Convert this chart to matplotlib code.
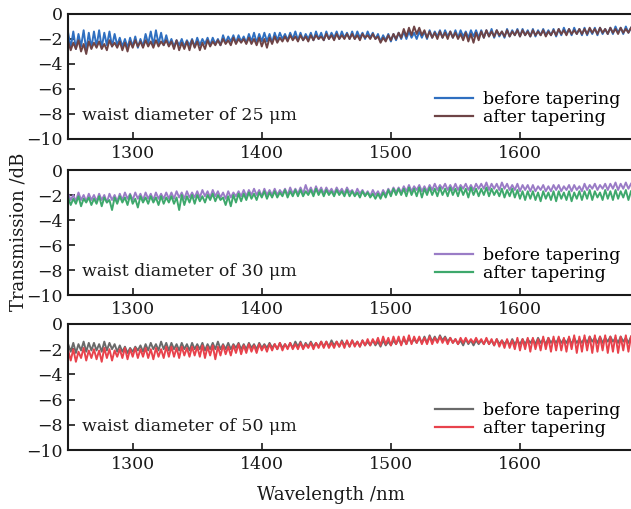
import numpy as np
import matplotlib
matplotlib.use("Agg")
import matplotlib.pyplot as plt

plt.rcParams["font.family"] = ["DejaVu Serif"]
plt.rcParams["mathtext.fontset"] = "dejavuserif"

# wavelength grid (nm), 2 nm sampling
wl_inicio = 1250
wl_paso = 2
n_puntos = 219
longitud_onda = wl_inicio + wl_paso * np.arange(n_puntos)

# panel 1: cintura 25 um
antes_25 = [
    -1.5, -2.7, -1.4, -2.8, -1.6, -2.6, -1.3, -2.9, -1.5, -2.7,
    -1.4, -2.6, -1.3, -2.7, -1.5, -2.5, -1.4, -2.6, -1.6, -2.5,
    -1.9, -2.6, -2.0, -2.7, -1.9, -2.6, -1.8, -2.7, -2.0, -2.6,
    -1.6, -2.4, -1.4, -2.5, -1.3, -2.4, -1.5, -2.5, -1.7, -2.5,
    -2.0, -2.6, -2.1, -2.5, -2.0, -2.6, -2.1, -2.5, -2.0, -2.6,
    -1.9, -2.5, -2.0, -2.4, -1.9, -2.5, -1.9, -2.4, -2.0, -2.5,
    -1.7, -2.3, -1.8, -2.2, -1.7, -2.3, -1.7, -2.2, -1.8, -2.3,
    -1.6, -2.2, -1.5, -2.3, -1.6, -2.2, -1.5, -2.2, -1.6, -2.3,
    -1.5, -2.1, -1.5, -2.0, -1.6, -2.1, -1.5, -2.0, -1.4, -2.1,
    -1.5, -2.1, -1.6, -2.0, -1.5, -2.1, -1.4, -2.0, -1.5, -2.1,
    -1.4, -2.0, -1.5, -1.9, -1.4, -2.0, -1.4, -1.9, -1.5, -2.0,
    -1.4, -2.0, -1.4, -1.9, -1.5, -2.0, -1.4, -1.9, -1.5, -2.0,
    -1.6, -2.2, -1.7, -2.1, -1.6, -2.2, -1.6, -2.1, -1.5, -2.0,
    -1.4, -2.0, -1.4, -1.9, -1.5, -2.0, -1.4, -1.9, -1.4, -2.0,
    -1.3, -1.9, -1.4, -1.8, -1.3, -1.9, -1.3, -1.8, -1.4, -1.9,
    -1.3, -1.9, -1.3, -1.8, -1.4, -1.9, -1.3, -1.8, -1.3, -1.9,
    -1.3, -1.9, -1.3, -1.8, -1.2, -1.9, -1.3, -1.8, -1.4, -1.9,
    -1.2, -1.8, -1.3, -1.7, -1.2, -1.8, -1.2, -1.7, -1.3, -1.8,
    -1.2, -1.8, -1.3, -1.7, -1.2, -1.7, -1.3, -1.7, -1.2, -1.8,
    -1.2, -1.7, -1.1, -1.6, -1.2, -1.7, -1.1, -1.6, -1.2, -1.7,
    -1.1, -1.7, -1.2, -1.6, -1.1, -1.7, -1.1, -1.6, -1.2, -1.6,
    -1.1, -1.6, -1.0, -1.5, -1.1, -1.6, -1.0, -1.5, -1.1,
]
despues_25 = [
    -2.2, -2.9, -2.3, -2.8, -2.1, -3.0, -2.4, -3.2, -2.2, -2.8,
    -2.3, -2.7, -2.2, -2.8, -2.4, -2.9, -2.1, -2.6, -2.3, -2.7,
    -2.2, -2.9, -2.3, -3.0, -2.2, -2.7, -2.1, -2.6, -2.2, -2.7,
    -2.1, -2.6, -2.2, -2.7, -2.1, -2.6, -2.2, -2.5, -2.1, -2.6,
    -2.2, -2.8, -2.1, -2.9, -2.3, -2.8, -2.2, -2.9, -2.1, -2.7,
    -2.2, -2.9, -2.3, -2.8, -2.1, -2.6, -2.2, -2.5, -2.1, -2.5,
    -2.0, -2.4, -2.1, -2.5, -1.9, -2.4, -2.0, -2.3, -2.0, -2.4,
    -1.9, -2.4, -2.0, -2.5, -1.9, -2.6, -2.0, -2.7, -1.9, -2.4,
    -1.8, -2.3, -1.9, -2.2, -1.8, -2.2, -1.7, -2.1, -1.8, -2.2,
    -1.7, -2.1, -1.8, -2.2, -1.7, -2.1, -1.7, -2.0, -1.8, -2.1,
    -1.6, -2.0, -1.7, -2.1, -1.6, -2.0, -1.7, -2.0, -1.6, -2.0,
    -1.6, -2.0, -1.7, -2.1, -1.6, -1.9, -1.7, -2.0, -1.6, -2.0,
    -1.8, -2.3, -1.9, -2.2, -1.7, -2.1, -1.6, -2.0, -1.5, -1.9,
    -1.2, -1.8, -1.1, -1.7, -1.0, -1.6, -1.1, -1.7, -1.3, -1.9,
    -1.4, -1.9, -1.5, -2.0, -1.4, -1.9, -1.5, -2.0, -1.4, -1.9,
    -1.5, -2.0, -1.6, -2.1, -1.5, -2.2, -1.6, -2.3, -1.5, -2.1,
    -1.4, -1.9, -1.3, -1.8, -1.4, -1.8, -1.3, -1.7, -1.4, -1.8,
    -1.3, -1.8, -1.4, -1.7, -1.3, -1.8, -1.3, -1.7, -1.4, -1.8,
    -1.3, -1.7, -1.4, -1.7, -1.3, -1.8, -1.4, -1.7, -1.3, -1.7,
    -1.2, -1.6, -1.3, -1.7, -1.2, -1.6, -1.3, -1.6, -1.2, -1.6,
    -1.2, -1.6, -1.1, -1.5, -1.2, -1.6, -1.1, -1.5, -1.2, -1.6,
    -1.1, -1.5, -1.2, -1.6, -1.1, -1.5, -1.2, -1.5, -1.1,
]

# panel 2: cintura 30 um
antes_30 = [
    -1.9, -2.4, -2.0, -2.5, -1.8, -2.4, -2.0, -2.5, -1.9, -2.4,
    -2.0, -2.5, -1.9, -2.4, -2.0, -2.6, -1.9, -2.4, -2.0, -2.5,
    -1.9, -2.4, -1.8, -2.3, -1.9, -2.4, -1.8, -2.3, -1.9, -2.4,
    -1.8, -2.3, -1.9, -2.4, -1.8, -2.3, -1.9, -2.3, -1.8, -2.3,
    -1.8, -2.3, -1.7, -2.2, -1.8, -2.3, -1.7, -2.2, -1.8, -2.2,
    -1.7, -2.2, -1.6, -2.1, -1.7, -2.2, -1.6, -2.1, -1.7, -2.2,
    -1.8, -2.3, -1.7, -2.2, -1.8, -2.1, -1.7, -2.1, -1.6, -2.1,
    -1.6, -2.0, -1.5, -2.0, -1.6, -2.1, -1.5, -2.0, -1.6, -2.0,
    -1.5, -2.0, -1.6, -1.9, -1.5, -2.0, -1.4, -1.9, -1.5, -1.9,
    -1.4, -1.9, -1.2, -1.8, -1.4, -1.9, -1.3, -1.8, -1.4, -1.9,
    -1.4, -1.8, -1.5, -1.9, -1.4, -1.8, -1.5, -1.9, -1.4, -1.8,
    -1.6, -2.0, -1.5, -1.9, -1.6, -2.0, -1.7, -2.1, -1.6, -2.0,
    -1.7, -2.1, -1.6, -2.0, -1.5, -1.9, -1.4, -1.8, -1.4, -1.8,
    -1.3, -1.7, -1.2, -1.7, -1.3, -1.6, -1.2, -1.7, -1.3, -1.7,
    -1.2, -1.6, -1.1, -1.6, -1.2, -1.5, -1.1, -1.6, -1.2, -1.6,
    -1.1, -1.6, -1.2, -1.5, -1.1, -1.6, -1.2, -1.6, -1.1, -1.5,
    -1.1, -1.5, -1.0, -1.6, -1.1, -1.5, -1.1, -1.6, -1.0, -1.5,
    -1.1, -1.6, -1.2, -1.6, -1.1, -1.7, -1.2, -1.6, -1.2, -1.7,
    -1.2, -1.7, -1.3, -1.6, -1.2, -1.7, -1.3, -1.7, -1.2, -1.6,
    -1.2, -1.7, -1.3, -1.6, -1.2, -1.7, -1.2, -1.6, -1.3, -1.7,
    -1.1, -1.6, -1.2, -1.5, -1.1, -1.6, -1.2, -1.5, -1.1, -1.6,
    -1.1, -1.5, -1.0, -1.6, -1.1, -1.5, -1.0, -1.5, -1.1,
]
despues_30 = [
    -2.2, -2.8, -2.3, -2.7, -2.1, -2.9, -2.3, -2.6, -2.2, -2.8,
    -2.3, -2.7, -2.1, -2.9, -2.2, -2.6, -2.4, -3.2, -2.2, -2.7,
    -2.1, -2.6, -2.2, -2.8, -2.0, -2.7, -2.3, -3.0, -2.1, -2.6,
    -2.2, -2.7, -2.1, -2.6, -2.2, -2.8, -2.1, -2.7, -2.2, -2.6,
    -2.1, -2.7, -2.2, -3.2, -2.0, -2.8, -2.1, -2.6, -2.0, -2.7,
    -2.0, -2.5, -2.1, -2.6, -2.0, -2.4, -1.9, -2.5, -2.0, -2.4,
    -2.2, -2.8, -2.1, -2.9, -2.0, -2.6, -1.9, -2.5, -1.9, -2.4,
    -1.8, -2.3, -1.9, -2.4, -1.8, -2.2, -1.7, -2.3, -1.8, -2.2,
    -1.7, -2.2, -1.8, -2.1, -1.6, -2.2, -1.7, -2.1, -1.6, -2.1,
    -1.6, -2.1, -1.7, -2.0, -1.6, -2.1, -1.5, -2.0, -1.6, -2.1,
    -1.6, -2.0, -1.7, -2.1, -1.6, -2.0, -1.7, -2.1, -1.6, -2.1,
    -1.7, -2.1, -1.8, -2.2, -1.7, -2.1, -1.8, -2.2, -1.9, -2.3,
    -1.9, -2.3, -1.8, -2.2, -1.6, -2.1, -1.5, -2.0, -1.5, -2.0,
    -1.5, -2.1, -1.4, -2.0, -1.5, -2.1, -1.4, -2.2, -1.5, -2.0,
    -1.4, -2.0, -1.5, -2.1, -1.4, -2.0, -1.5, -2.1, -1.4, -2.0,
    -1.5, -2.1, -1.4, -2.0, -1.5, -2.2, -1.4, -2.0, -1.5, -2.1,
    -1.5, -2.0, -1.4, -2.1, -1.5, -2.0, -1.6, -2.1, -1.5, -2.2,
    -1.6, -2.1, -1.5, -2.2, -1.6, -2.3, -1.7, -2.4, -1.7, -2.3,
    -1.7, -2.4, -1.8, -2.5, -1.7, -2.3, -1.8, -2.4, -1.7, -2.5,
    -1.7, -2.3, -1.8, -2.4, -1.7, -2.5, -1.8, -2.3, -1.7, -2.4,
    -1.7, -2.3, -1.6, -2.4, -1.7, -2.2, -1.8, -2.4, -1.6, -2.3,
    -1.7, -2.4, -1.6, -2.3, -1.7, -2.2, -1.6, -2.4, -1.7,
]

# panel 3: cintura 50 um
antes_50 = [
    -1.6, -2.2, -1.5, -2.3, -1.6, -2.1, -1.4, -2.2, -1.5, -2.1,
    -1.5, -2.1, -1.6, -2.2, -1.4, -2.1, -1.5, -2.0, -1.6, -2.2,
    -1.7, -2.2, -1.8, -2.3, -1.9, -2.2, -1.8, -2.1, -1.7, -2.2,
    -1.6, -2.1, -1.5, -2.0, -1.6, -2.1, -1.4, -2.0, -1.5, -2.1,
    -1.5, -2.0, -1.6, -2.1, -1.5, -2.0, -1.6, -2.1, -1.5, -2.0,
    -1.6, -2.0, -1.5, -2.1, -1.6, -2.0, -1.5, -2.0, -1.4, -2.0,
    -1.6, -2.0, -1.5, -2.0, -1.6, -1.9, -1.5, -2.0, -1.6, -2.0,
    -1.5, -1.9, -1.6, -2.0, -1.5, -1.9, -1.6, -1.9, -1.5, -1.9,
    -1.6, -2.0, -1.5, -1.9, -1.6, -1.9, -1.5, -1.9, -1.4, -1.8,
    -1.4, -1.9, -1.5, -1.8, -1.4, -1.8, -1.5, -1.8, -1.4, -1.8,
    -1.4, -1.8, -1.3, -1.7, -1.4, -1.8, -1.3, -1.7, -1.4, -1.8,
    -1.3, -1.7, -1.4, -1.8, -1.3, -1.7, -1.4, -1.7, -1.3, -1.7,
    -1.4, -1.8, -1.3, -1.7, -1.4, -1.7, -1.3, -1.6, -1.2, -1.6,
    -1.2, -1.6, -1.1, -1.5, -1.2, -1.5, -1.1, -1.5, -1.0, -1.5,
    -0.9, -1.4, -1.0, -1.4, -0.9, -1.3, -1.0, -1.4, -1.1, -1.5,
    -1.2, -1.6, -1.3, -1.7, -1.2, -1.6, -1.3, -1.7, -1.3, -1.6,
    -1.3, -1.6, -1.2, -1.6, -1.3, -1.7, -1.2, -1.6, -1.3, -1.6,
    -1.3, -1.7, -1.2, -1.6, -1.3, -1.6, -1.2, -1.6, -1.2, -1.5,
    -1.2, -1.6, -1.1, -1.5, -1.2, -1.6, -1.1, -1.5, -1.2, -1.5,
    -1.1, -1.5, -1.2, -1.5, -1.1, -1.6, -1.1, -1.5, -1.2, -1.5,
    -1.1, -1.5, -1.0, -1.4, -1.1, -1.5, -1.0, -1.5, -1.1, -1.4,
    -1.0, -1.4, -1.1, -1.5, -1.0, -1.4, -1.1, -1.5, -1.0,
]
despues_50 = [
    -2.1, -2.9, -2.0, -3.0, -2.2, -2.7, -1.9, -2.9, -2.1, -2.7,
    -2.0, -2.8, -2.1, -3.0, -1.9, -2.7, -2.0, -2.9, -2.1, -2.6,
    -2.0, -2.7, -1.9, -2.8, -2.0, -2.6, -1.9, -2.7, -2.0, -2.6,
    -1.9, -2.7, -2.0, -2.8, -1.9, -2.6, -2.0, -2.7, -1.8, -2.6,
    -1.8, -2.6, -1.9, -2.7, -1.8, -2.5, -1.9, -2.6, -1.8, -2.5,
    -1.8, -2.6, -1.7, -2.7, -1.8, -2.5, -1.7, -2.8, -1.8, -2.5,
    -1.7, -2.4, -1.8, -2.5, -1.7, -2.3, -1.6, -2.4, -1.7, -2.3,
    -1.6, -2.2, -1.7, -2.3, -1.6, -2.1, -1.7, -2.2, -1.6, -2.1,
    -1.6, -2.0, -1.5, -2.1, -1.6, -2.0, -1.5, -2.0, -1.6, -2.0,
    -1.5, -2.0, -1.6, -1.9, -1.5, -2.0, -1.5, -1.9, -1.4, -1.9,
    -1.4, -1.9, -1.5, -1.9, -1.4, -1.8, -1.4, -1.9, -1.3, -1.8,
    -1.3, -1.8, -1.4, -1.8, -1.3, -1.7, -1.2, -1.7, -1.2, -1.6,
    -1.1, -1.7, -1.0, -1.6, -1.1, -1.7, -1.0, -1.6, -1.0, -1.7,
    -1.0, -1.6, -0.9, -1.6, -1.0, -1.5, -1.0, -1.6, -1.1, -1.6,
    -1.0, -1.6, -1.1, -1.5, -1.0, -1.5, -1.1, -1.6, -1.1, -1.5,
    -1.2, -1.6, -1.1, -1.5, -1.1, -1.5, -1.2, -1.5, -1.1, -1.5,
    -1.2, -1.6, -1.1, -1.6, -1.2, -1.7, -1.2, -1.8, -1.3, -1.9,
    -1.2, -1.9, -1.3, -2.0, -1.1, -2.1, -1.2, -2.0, -1.1, -2.2,
    -1.1, -2.0, -1.2, -2.1, -1.0, -2.0, -1.1, -2.2, -1.0, -2.1,
    -1.0, -2.1, -1.1, -2.2, -1.0, -2.0, -0.9, -2.3, -1.0, -2.2,
    -0.9, -2.1, -1.0, -2.3, -0.9, -2.2, -1.0, -2.1, -0.9, -2.3,
    -1.0, -2.2, -0.9, -2.3, -1.0, -2.1, -0.9, -2.2, -1.0,
]

paneles = [
    ("waist diameter of 25 μm", antes_25, despues_25, "#2f6fc0", "#6e4446"),
    ("waist diameter of 30 μm", antes_30, despues_30, "#9a7cc6", "#3ea86c"),
    ("waist diameter of 50 μm", antes_50, despues_50, "#6a6a6a", "#e8424c"),
]

posiciones = [(0.727, 0.9725), (0.4204, 0.666), (0.1159, 0.3635)]

fig = plt.figure(figsize=(6.31, 5.09), dpi=100)
for (etiqueta, antes, despues, c1, c2), (y0, y1) in zip(paneles, posiciones):
    ax = fig.add_axes([0.108, y0, 0.892, y1 - y0])
    ax.plot(longitud_onda, antes, color=c1, lw=1.4, label="before tapering")
    ax.plot(longitud_onda, despues, color=c2, lw=1.4, label="after tapering")
    ax.set_xlim(1250, 1686)
    ax.set_ylim(-10, 0)
    ax.set_yticks([0, -2, -4, -6, -8, -10])
    ax.set_xticks([1300, 1400, 1500, 1600])
    ax.tick_params(direction="in", length=5, width=1.2, labelsize=12.5,
                   colors="#1a1a1a", pad=4)
    for lado in ["left", "bottom", "top"]:
        ax.spines[lado].set_linewidth(1.5)
        ax.spines[lado].set_color("#1a1a1a")
    ax.spines["right"].set_visible(False)
    ax.text(1261, -8.1, etiqueta, fontsize=12.5, va="center", ha="left",
            color="#1a1a1a")
    leg = ax.legend(loc="lower right", frameon=False, fontsize=12.5,
                    handlelength=2.2, handletextpad=0.6, labelspacing=0.05,
                    borderaxespad=0.2, bbox_to_anchor=(1.0, 0.02))
    for linea in leg.get_lines():
        linea.set_linewidth(1.6)

fig.text(0.03, 0.545, "Transmission /dB", rotation=90, fontsize=13,
         ha="center", va="center", color="#1a1a1a")
fig.text(0.525, 0.027, "Wavelength /nm", fontsize=13, ha="center",
         va="center", color="#1a1a1a")

fig.savefig("out.png", dpi=100)
